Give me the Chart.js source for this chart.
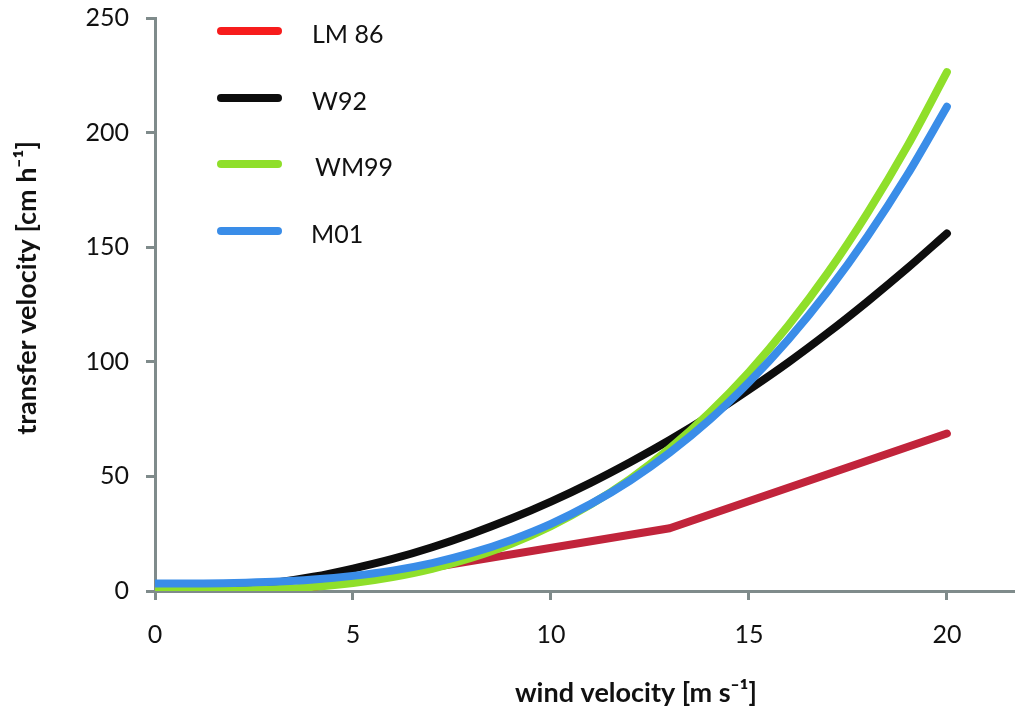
<!DOCTYPE html>
<html>
<head>
<meta charset="utf-8">
<script src="https://cdn.jsdelivr.net/npm/chart.js@4"></script>
<style>
  html, body { margin: 0; padding: 0; background: #fff; }
  #wrap { width: 1015px; height: 713px; position: relative; }
</style>
</head>
<body>
<div id="wrap"><canvas id="chart"></canvas></div>
<script>
// ===== data =====
const windSpeed = [0, 1, 2, 3, 4, 5, 6, 7, 8, 9, 10, 11, 12, 13, 14, 15, 16, 17, 18, 19, 20];
const lm86Wind = [0, 3.6, 13, 20];
const lm86 = [0, 0.6, 27.4, 68.7];
const w92 = [0, 0.4, 1.6, 3.5, 6.2, 9.8, 14.0, 19.1, 25.0, 31.6, 39.0, 47.2, 56.2, 65.9, 76.4, 87.8, 99.8, 112.7, 126.4, 140.8, 156.0];
const wm99 = [0, 0.03, 0.2, 0.8, 1.8, 3.5, 6.1, 9.7, 14.5, 20.6, 28.3, 37.7, 48.9, 62.2, 77.7, 95.5, 115.9, 139.0, 165.1, 194.1, 226.4];
const m01 = [3.3, 3.3, 3.5, 4.0, 5.0, 6.6, 8.9, 12.2, 16.6, 22.3, 29.3, 37.9, 48.2, 60.4, 74.6, 91.1, 109.8, 131.0, 154.9, 181.6, 211.3];
const seriesNames = ['LM 86', 'W92', 'WM99', 'M01'];
const yTicks = [0, 50, 100, 150, 200, 250];
const xTicks = [0, 5, 10, 15, 20];

const colors = {
    lm86: '#c1243b',
    lm86Key: '#f71c1c',
    w92: '#0d0d0d',
    wm99: '#8fdf2a',
    m01: '#3a8de8',
    axis: '#7f8b8b',
    text: '#111',
};

const FONT = "Lato, 'Open Sans', sans-serif";

const toPoints = (xs, ys) => xs.map((x, i) => ({ x, y: ys[i] }));

function lineSet(label, data, color, order, smooth) {
    return {
        label,
        data,
        borderColor: color,
        backgroundColor: color,
        borderWidth: 8,
        borderCapStyle: 'round',
        borderJoinStyle: 'round',
        pointRadius: 0,
        pointHoverRadius: 0,
        fill: false,
        order,
        tension: smooth ? 0.4 : 0,
        cubicInterpolationMode: smooth ? 'monotone' : 'default',
    };
}

// legend + axis titles drawn by hand (legend keys use other colours than the lines)
const decorations = {
    id: 'decorations',
    afterDraw(chart) {
        const c = chart.ctx;
        const keyColors = [colors.lm86Key, colors.w92, colors.wm99, colors.m01];
        const keyY = [31, 98, 164, 231];
        const textX = [312, 312, 315, 311];
        c.save();
        c.lineCap = 'round';
        c.lineWidth = 8;
        seriesNames.forEach((name, i) => {
            c.strokeStyle = keyColors[i];
            c.beginPath();
            c.moveTo(221, keyY[i]);
            c.lineTo(278, keyY[i]);
            c.stroke();
            c.fillStyle = colors.text;
            c.font = `25px ${FONT}`;
            c.textBaseline = 'middle';
            c.textAlign = 'left';
            c.fillText(name, textX[i], keyY[i] + 4);
        });

        // x title
        c.font = `bold 27px ${FONT}`;
        c.textAlign = 'center';
        c.textBaseline = 'middle';
        c.fillText('wind velocity [m s\u207B\u00B9]', 636, 693);

        // y title
        c.translate(27, 288);
        c.rotate(-Math.PI / 2);
        c.fillText('transfer velocity [cm h\u207B\u00B9]', 0, 0);
        c.restore();
    }
};

new Chart(document.getElementById('chart'), {
    type: 'line',
    data: {
        datasets: [
            lineSet(seriesNames[0], toPoints(lm86Wind, lm86), colors.lm86, 4, false),
            lineSet(seriesNames[1], toPoints(windSpeed, w92), colors.w92, 3, true),
            lineSet(seriesNames[2], toPoints(windSpeed, wm99), colors.wm99, 2, true),
            lineSet(seriesNames[3], toPoints(windSpeed, m01), colors.m01, 1, true),
        ]
    },
    options: {
        responsive: true,
        maintainAspectRatio: false,
        animation: false,
        layout: { padding: { top: 18, right: 0, left: 0, bottom: 0 } },
        plugins: {
            legend: { display: false },
            tooltip: { enabled: false },
        },
        scales: {
            x: {
                type: 'linear',
                min: 0,
                max: 21.72,
                afterBuildTicks: (scale) => { scale.ticks = xTicks.map(v => ({ value: v })); },
                afterFit: (scale) => { scale.height = 122; scale.paddingLeft = 0; scale.paddingRight = 0; },
                border: { color: colors.axis, width: 3 },
                grid: {
                    drawOnChartArea: false,
                    color: colors.axis,
                    tickLength: 9,
                    tickWidth: 3,
                },
                ticks: {
                    includeBounds: false,
                    color: colors.text,
                    font: { family: FONT, size: 25 },
                    padding: 20,
                    maxRotation: 0,
                },
            },
            y: {
                min: 0,
                max: 250,
                afterBuildTicks: (scale) => { scale.ticks = yTicks.map(v => ({ value: v })); },
                afterFit: (scale) => { scale.width = 155; scale.paddingTop = 0; scale.paddingBottom = 0; },
                border: { color: colors.axis, width: 3 },
                grid: {
                    drawOnChartArea: false,
                    color: colors.axis,
                    tickLength: 9,
                    tickWidth: 3,
                },
                ticks: {
                    color: colors.text,
                    font: { family: FONT, size: 25 },
                    padding: 17,
                },
            }
        }
    },
    plugins: [decorations]
});
</script>
</body>
</html>
